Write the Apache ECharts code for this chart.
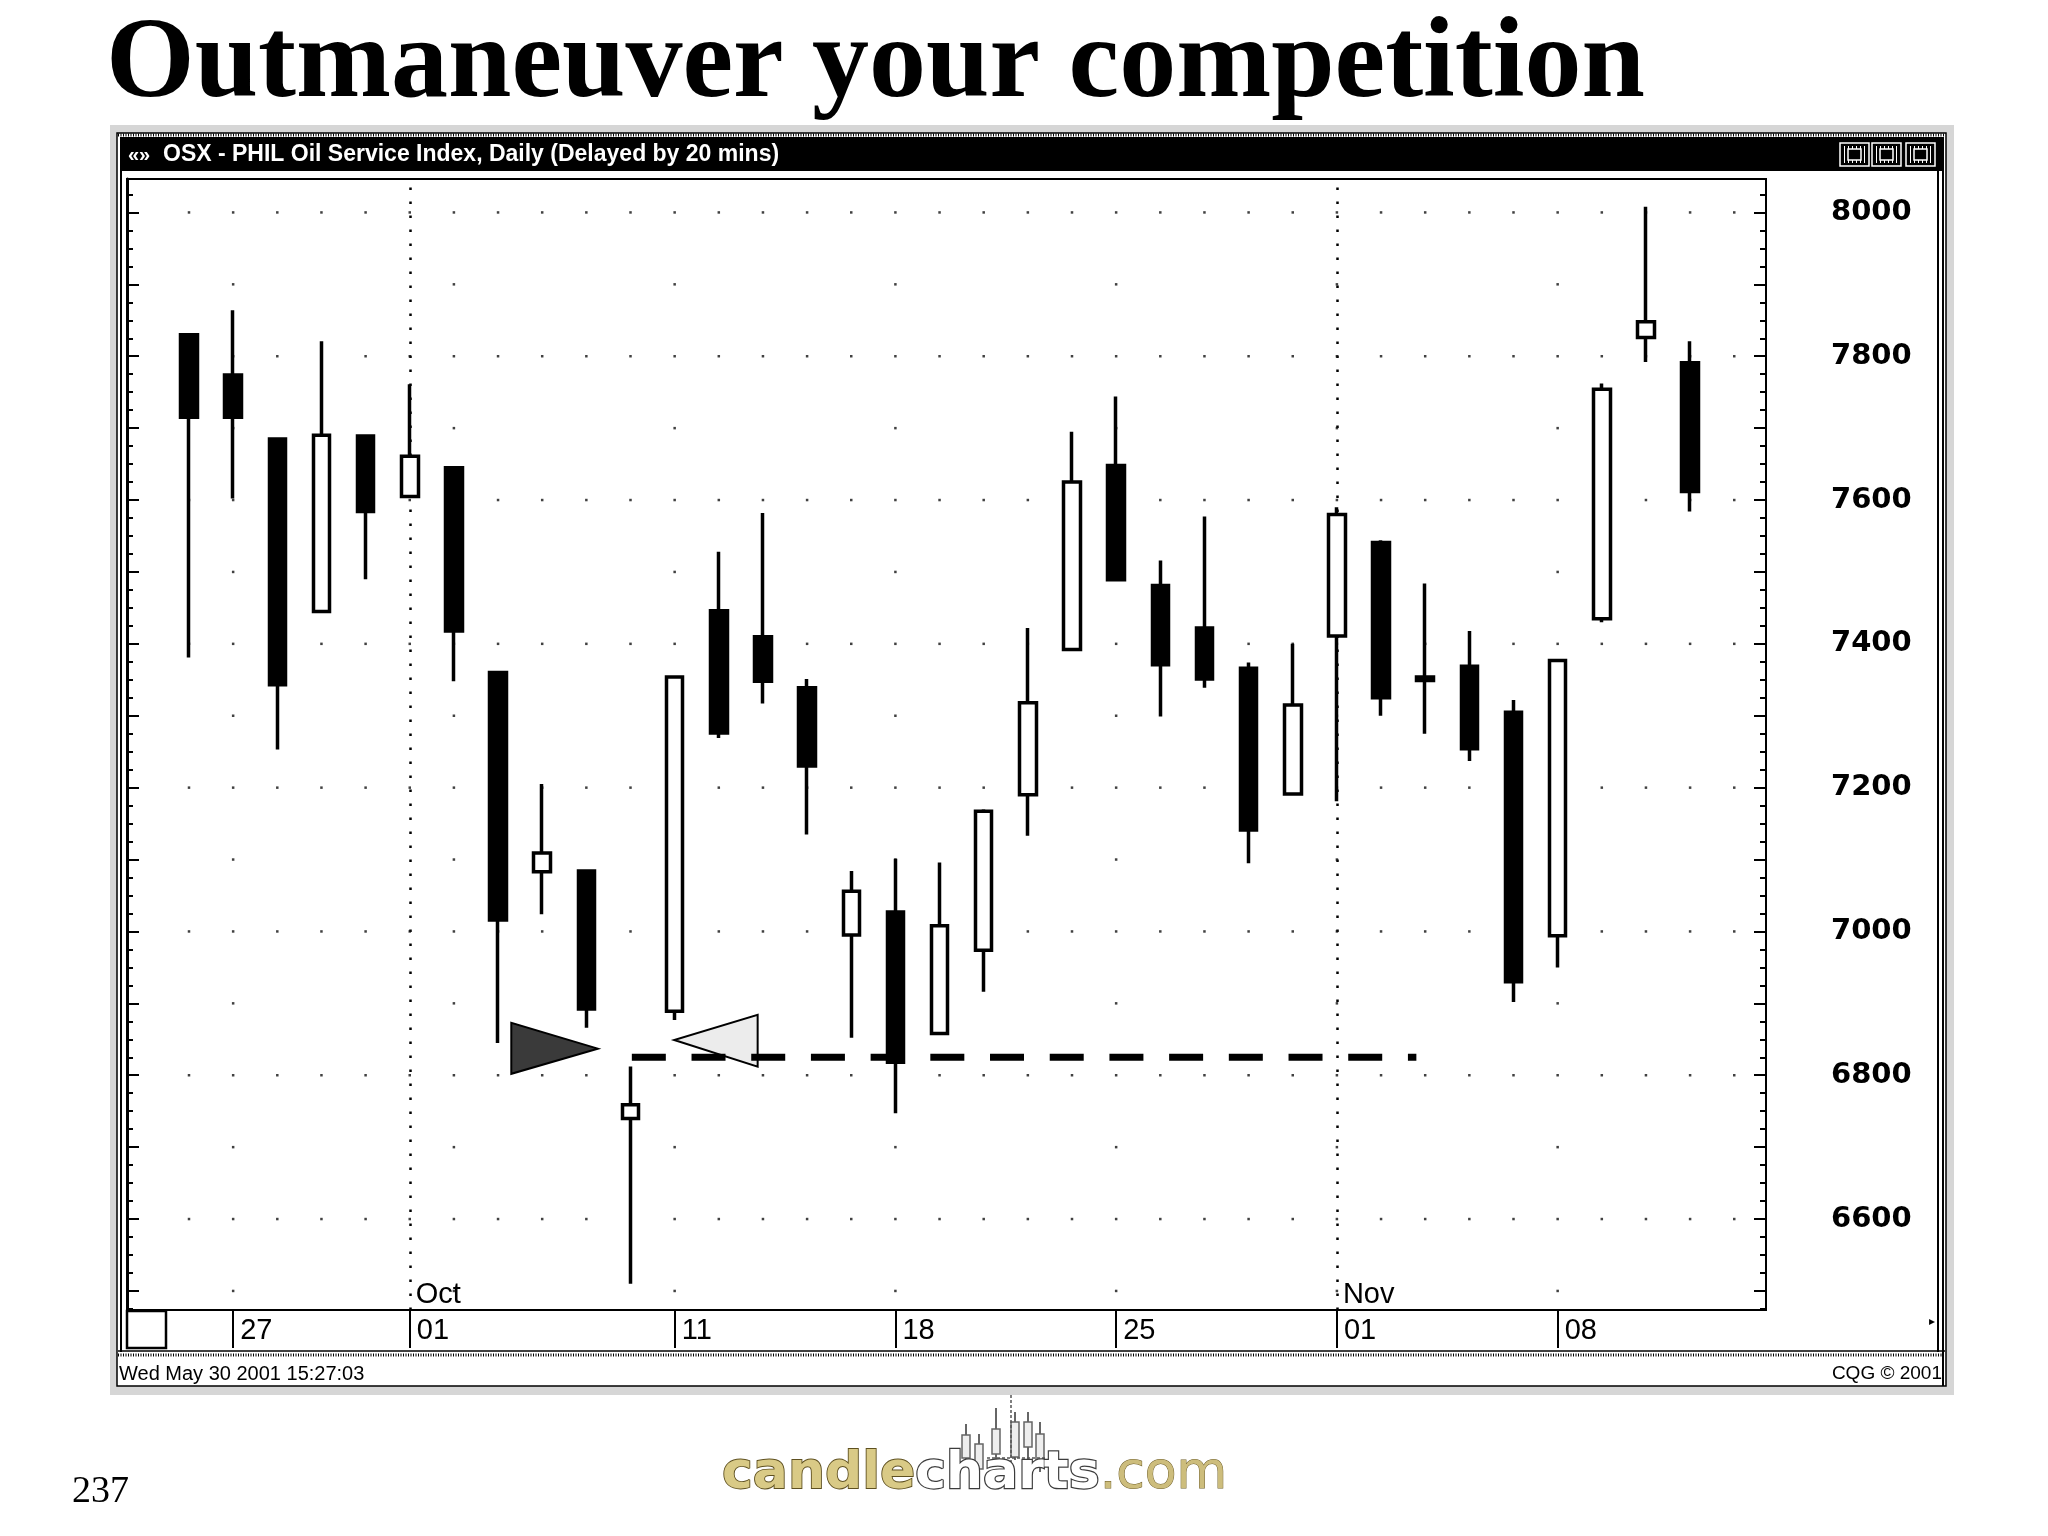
<!DOCTYPE html>
<html><head><meta charset="utf-8">
<script src="https://cdn.jsdelivr.net/npm/echarts@6/dist/echarts.min.js"></script>
<style>html,body{margin:0;padding:0;background:#fff}#c{width:2048px;height:1536px}</style>
</head><body><div id="c"></div>
<script>
// ---------- data ----------
const categories = ['Sep 26','Sep 27','Sep 28','Sep 29','Oct 02','Oct 03','Oct 04','Oct 05','Oct 06','Oct 09',
  'Oct 10','Oct 11','Oct 12','Oct 13','Oct 16','Oct 17','Oct 18','Oct 19','Oct 20','Oct 23',
  'Oct 24','Oct 25','Oct 26','Oct 27','Oct 30','Oct 31','Nov 01','Nov 02','Nov 03','Nov 06',
  'Nov 07','Nov 08','Nov 09','Nov 10','Nov 13'];
const openV  = [7830,7774,7685,7445,7689,7605,7645,7360,7083,7084,6740,6889,7446,7410,7339,6995,7027,6858,6974,7190,7392,7648,7481,7422,7366,7191,7411,7541,7349,7369,7305,6994,7435,7826,7791];
const closeV = [7715,7715,7343,7690,7584,7661,7418,7016,7109,6892,6759,7354,7276,7348,7230,7056,6818,7008,7167,7318,7625,7489,7371,7351,7141,7315,7580,7325,7354,7254,6930,7377,7754,7848,7612];
const lowV   = [7381,7602,7253,7445,7490,7603,7348,6845,7024,6866,6510,6877,7269,7317,7135,6852,6747,6856,6916,7133,7390,7487,7299,7339,7095,7189,7181,7300,7275,7237,6902,6950,7430,7792,7584];
const highV  = [7832,7864,7687,7821,7691,7761,7647,7362,7205,7086,6812,7356,7528,7582,7351,7084,7101,7096,7170,7422,7695,7744,7516,7577,7374,7400,7590,7544,7484,7418,7322,7379,7762,8008,7821];

const dateTicks  = [[1,'27'],[5,'01'],[11,'11'],[16,'18'],[21,'25'],[26,'01'],[31,'08']];
const monthTicks = [[5,'Oct'],[26,'Nov']];
const weekColumns = [1,6,11,16,21,26,31];
const yLabels = [6600,6800,7000,7200,7400,7600,7800,8000];

// annotation marks (x in candle-index units, y in index points)
const markerDark  = [[7.30,6873],[7.30,6802],[9.26,6837]];
const markerLight = [[12.88,6884],[12.88,6812],[10.99,6849]];
const resistanceLevel = 6825;
const resistanceFrom = 10.03, resistanceTo = 27.8;

// ---------- layout ----------
const YMIN = 6473.5, YMAX = 8046.5;
const X0 = 127, X1 = 1766, PT = 179, PB = 1310;
const C0 = 189, STEP = 44.15;
const xMinIdx = (X0 - C0) / STEP, xMaxIdx = (X1 - C0) / STEP;
const NAR = "'Liberation Sans Narrow','Liberation Sans',Arial,sans-serif";

const majorTicks = [], minorTicks = [];
for (let v = 6500; v <= 8000; v += 100) majorTicks.push(v);
for (let v = 6475; v <= 8025; v += 25) minorTicks.push(v);

const dateIdx = dateTicks.map(d => d[0]);
const dateMap = Object.fromEntries(dateTicks);
const monthIdx = monthTicks.map(d => d[0]);
const monthMap = Object.fromEntries(monthTicks);

// grid dots (decoration, like a dotted split grid)
const dots = [];
for (let r = 6500; r <= 8000; r += 100) {
  const cols = (r % 200 === 0) ? Array.from({length: 36}, (_, i) => i) : weekColumns;
  cols.forEach(c => dots.push([c, r]));
}

const candleData = categories.map((_, i) => [openV[i], closeV[i], lowV[i], highV[i]]);

function triSeries(pts, fill) {
  return {
    type: 'custom', xAxisIndex: 0, yAxisIndex: 0, z: 4, silent: true,
    data: [pts.flat()],
    encode: {x: [0, 2, 4], y: [1, 3, 5]},
    renderItem: (params, api) => {
      const p = [0, 1, 2].map(k => api.coord([api.value(2 * k), api.value(2 * k + 1)]));
      return {type: 'polygon', shape: {points: p}, style: {fill: fill, stroke: '#000', lineWidth: 2}};
    }
  };
}

function yAx(pos, ticks, len, extra) {
  return Object.assign({
    type: 'value', gridIndex: 0, min: YMIN, max: YMAX, position: pos,
    axisLine: {show: false, onZero: false},
    axisTick: {show: true, inside: true, length: len, customValues: ticks, lineStyle: {color: '#000', width: 2}},
    axisLabel: {show: false}, splitLine: {show: false}
  }, extra || {});
}

const buttons = [1840, 1872, 1906].map(x => ({
  type: 'group', children: [
    {type: 'rect', shape: {x: x, y: 143, width: 29, height: 23}, style: {fill: '#000', stroke: '#fff', lineWidth: 1.5}},
    ...[4, 8, 12, 16, 20, 24].map(dx => ({type: 'line', shape: {x1: x + dx + 0.5, y1: 146, x2: x + dx + 0.5, y2: 163},
      style: {stroke: '#fff', lineWidth: 1}})),
    {type: 'rect', shape: {x: x + 8, y: 149, width: 13, height: 11}, style: {fill: '#000', stroke: '#fff', lineWidth: 1.5}}
  ]
}));

const LOGO_DY = -18;
const logoCandles = [
  [966, 1442, 1480, 1453, 1476],
  [979, 1452, 1490, 1462, 1487],
  [996, 1426, 1484, 1447, 1472],
  [1015, 1430, 1478, 1440, 1475],
  [1028, 1430, 1490, 1440, 1465],
  [1040, 1440, 1490, 1452, 1480]
].map(c => ({
  type: 'group', y: LOGO_DY, children: [
    {type: 'line', shape: {x1: c[0], y1: c[1], x2: c[0], y2: c[2]}, style: {stroke: '#666', lineWidth: 2}},
    {type: 'rect', shape: {x: c[0] - 4, y: c[3], width: 8, height: c[4] - c[3]}, style: {fill: '#eee', stroke: '#666', lineWidth: 1.5}}
  ]
}));

const option = {
  animation: false,
  backgroundColor: '#fff',
  grid: [
    {left: X0, top: PT, width: X1 - X0, height: PB - PT, show: true, borderColor: '#000', borderWidth: 2},
    {left: C0 - STEP / 2, top: PT, width: STEP * categories.length, height: PB - PT}
  ],
  xAxis: [
    {type: 'value', gridIndex: 0, min: xMinIdx, max: xMaxIdx, show: false, axisLine: {onZero: false}},
    {type: 'category', gridIndex: 1, data: categories, boundaryGap: true, position: 'bottom',
      axisLine: {show: false, onZero: false},
      axisTick: {show: true, alignWithLabel: true, interval: (i) => dateIdx.includes(i), length: 38, lineStyle: {color: '#000', width: 2}},
      axisLabel: {interval: (i) => dateIdx.includes(i), formatter: (v, i) => dateMap[i], align: 'left',
        padding: [0, 0, 0, 7], margin: 6, fontSize: 29, fontFamily: NAR, color: '#000'},
      splitLine: {show: false}},
    {type: 'category', gridIndex: 1, data: categories, boundaryGap: true, position: 'bottom',
      axisLine: {show: false, onZero: false}, axisTick: {show: false},
      axisLabel: {inside: true, interval: (i) => monthIdx.includes(i), formatter: (v, i) => monthMap[i], align: 'left',
        padding: [0, 0, 0, 6], margin: 1, fontSize: 29, fontFamily: NAR, color: '#000'},
      splitLine: {show: false}}
  ],
  yAxis: [
    yAx('left', majorTicks, 12, {axisLine: {show: true, onZero: false, lineStyle: {color: '#000', width: 3}}}),
    yAx('left', minorTicks, 6),
    yAx('right', majorTicks, 12, {axisLabel: {show: true, customValues: yLabels, margin: 65, fontSize: 29,
      fontFamily: 'DejaVu Sans', fontWeight: 'bold', color: '#000', formatter: (v) => String(v)}}),
    yAx('right', minorTicks, 6),
    {type: 'value', gridIndex: 1, min: YMIN, max: YMAX, show: false, axisLine: {onZero: false}}
  ],
  series: [
    {type: 'scatter', xAxisIndex: 0, yAxisIndex: 0, data: dots, symbol: 'rect', symbolSize: 2.5,
      itemStyle: {color: '#111'}, silent: true, z: 1,
      markLine: {symbol: 'none', silent: true, z: 1, label: {show: false},
        lineStyle: {type: [2.5, 11.5], width: 2.5, color: '#000'},
        data: monthTicks.map(m => ({xAxis: m[0]}))}},
    {type: 'candlestick', xAxisIndex: 1, yAxisIndex: 4, data: candleData, barWidth: 17, z: 3,
      itemStyle: {color: '#fff', color0: '#000', borderColor: '#000', borderColor0: '#000', borderWidth: 3.5},
      emphasis: {disabled: true}},
    triSeries(markerDark, '#3a3a3a'),
    triSeries(markerLight, '#ececec'),
    {type: 'line', xAxisIndex: 0, yAxisIndex: 0, z: 6, silent: true, symbol: 'none',
      data: [[resistanceFrom, resistanceLevel], [resistanceTo, resistanceLevel]],
      lineStyle: {color: '#000', width: 7, type: [34, 25.7], cap: 'butt'}}
  ],
  graphic: [
    {type: 'rect', z: -10, shape: {x: 110, y: 125, width: 1844, height: 1270}, style: {fill: '#d6d6d6'}},
    {type: 'rect', z: -9, shape: {x: 117, y: 133, width: 1829, height: 1253}, style: {fill: '#fff', stroke: '#000', lineWidth: 1.5}},
    {type: 'rect', z: -8, shape: {x: 120, y: 137, width: 1822, height: 34}, style: {fill: '#000'}},
    {type: 'line', z: -7, shape: {x1: 118, y1: 135, x2: 1944, y2: 135}, style: {stroke: '#000', lineWidth: 3, lineDash: [1, 1.5]}},
    {type: 'text', x: 128, y: 155, style: {text: '«»', fill: '#fff', fontSize: 20, fontWeight: 'bold', fontFamily: NAR, verticalAlign: 'middle'}},
    {type: 'text', x: 163, y: 155, style: {text: 'OSX - PHIL Oil Service Index, Daily (Delayed by 20 mins)', fill: '#fff',
      fontSize: 23, fontWeight: 'bold', fontFamily: NAR, verticalAlign: 'middle'}},
    ...buttons,
    {type: 'line', shape: {x1: 121, y1: 171, x2: 121, y2: 1352}, style: {stroke: '#000', lineWidth: 2}},
    {type: 'line', shape: {x1: 1938, y1: 171, x2: 1938, y2: 1352}, style: {stroke: '#000', lineWidth: 2}},
    {type: 'line', shape: {x1: 1943, y1: 137, x2: 1943, y2: 1386}, style: {stroke: '#000', lineWidth: 2}},
    {type: 'line', shape: {x1: 118, y1: 1351, x2: 1945, y2: 1351}, style: {stroke: '#000', lineWidth: 1.5}},
    {type: 'line', shape: {x1: 118, y1: 1355, x2: 1945, y2: 1355}, style: {stroke: '#000', lineWidth: 3, lineDash: [1, 1.5]}},
    {type: 'rect', shape: {x: 127, y: 1311, width: 39, height: 37}, style: {fill: '#fff', stroke: '#000', lineWidth: 2.5}},
    {type: 'text', x: 1929, y: 1322, style: {text: '▸', fontSize: 12, fontFamily: 'DejaVu Sans', fill: '#000', verticalAlign: 'middle'}},
    {type: 'text', x: 119, y: 1374, style: {text: 'Wed May 30 2001 15:27:03', fontSize: 20, fontFamily: NAR, fill: '#000', verticalAlign: 'middle'}},
    {type: 'text', x: 1942, y: 1374, style: {text: 'CQG © 2001', fontSize: 19, fontFamily: NAR, fill: '#000', align: 'right', verticalAlign: 'middle'}},
    {type: 'text', x: 106, y: 67, style: {text: 'Outmaneuver your competition', fontSize: 114, fontWeight: 'bold',
      fontFamily: "'Liberation Serif','Times New Roman',serif", fill: '#000', verticalAlign: 'middle'}},
    {type: 'text', x: 72, y: 1492, style: {text: '237', fontSize: 38, fontFamily: "'Liberation Serif',serif", fill: '#000', verticalAlign: 'middle'}},
    ...logoCandles,
    {type: 'line', y: LOGO_DY, shape: {x1: 1011, y1: 1413, x2: 1011, y2: 1480}, style: {stroke: '#555', lineWidth: 1.5, lineDash: [3, 2]}},
    {type: 'line', y: LOGO_DY, shape: {x1: 987, y1: 1476, x2: 1047, y2: 1476}, style: {stroke: '#555', lineWidth: 1.5, lineDash: [3, 2]}},
    {type: 'text', x: 722, y: 1474, style: {
      text: '{a|candle}{b|charts}{c|.com}', verticalAlign: 'middle',
      rich: {
        a: {fontSize: 52, fontWeight: 'bold', fontFamily: 'DejaVu Sans', fill: '#d9ca86', stroke: '#5e5020', lineWidth: 1.8},
        b: {fontSize: 52, fontWeight: 'bold', fontFamily: 'DejaVu Sans', fill: '#ffffff', stroke: '#3c3c3c', lineWidth: 2.4},
        c: {fontSize: 52, fontFamily: 'DejaVu Sans', fill: '#cdbd7c', stroke: '#6e5e28', lineWidth: 1}
      }
    }}
  ]
};

const chart = echarts.init(document.getElementById('c'), null, {renderer: 'canvas', width: 2048, height: 1536});
chart.setOption(option);
</script>
</body></html>
